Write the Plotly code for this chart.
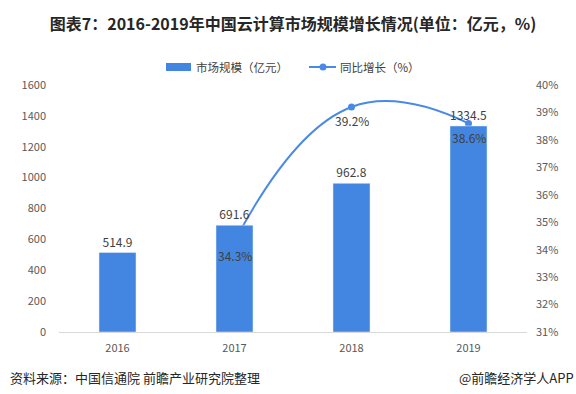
import plotly.graph_objects as go

years = ["2016", "2017", "2018", "2019"]
market_size = [514.9, 691.6, 962.8, 1334.5]
growth_years = ["2017", "2018", "2019"]
growth_rate = [34.3, 39.2, 38.6]

left_ticks = [0, 200, 400, 600, 800, 1000, 1200, 1400, 1600]
right_ticks = [31, 32, 33, 34, 35, 36, 37, 38, 39, 40]

FONT = "Noto Sans CJK SC, Microsoft YaHei, sans-serif"
BAR = "#4286E1"
LINE = "#4A89E6"

W, H = 576, 394
L, R, T, B = 59, 49, 85, 62
PW, PH = W - L - R, H - T - B


def px(x):
    return (x - L) / PW


def py(y):
    return (H - B - y) / PH


fig = go.Figure()
# growth line (drawn first, behind the bars) on the right-hand percent axis
fig.add_trace(go.Scatter(
    x=growth_years, y=growth_rate, name="同比增长（%）", yaxis="y",
    mode="lines+markers",
    line=dict(color=LINE, width=2, shape="spline", smoothing=1.3),
    marker=dict(size=7, color=LINE),
))
# bars on the left-hand axis
fig.add_trace(go.Bar(
    x=years, y=market_size, name="市场规模（亿元）", yaxis="y2",
    marker_color=BAR,
    text=[f"{v:.1f}" for v in market_size], textposition="outside",
    textfont=dict(size=12, color="#404040"), cliponaxis=False,
))

shapes = [
    dict(type="rect", xref="paper", yref="paper", x0=px(166), x1=px(191), y0=py(71), y1=py(63),
         fillcolor=BAR, line=dict(width=0)),
    dict(type="line", xref="paper", yref="paper", x0=px(309), x1=px(336), y0=py(67), y1=py(67),
         line=dict(color=LINE, width=2)),
    dict(type="circle", xref="paper", yref="paper", x0=px(319.5), x1=px(326.5), y0=py(70.5), y1=py(63.5),
         fillcolor=LINE, line=dict(width=0)),
]

annotations = [
    dict(text="市场规模（亿元）", x=px(194), xref="paper", xanchor="left",
         y=py(67), yref="paper", yanchor="middle", showarrow=False,
         font=dict(size=11.5, color="#404040", family=FONT)),
    dict(text="同比增长（%）", x=px(338), xref="paper", xanchor="left",
         y=py(67), yref="paper", yanchor="middle", showarrow=False,
         font=dict(size=11.5, color="#404040", family=FONT)),
    dict(text="资料来源：中国信通院 前瞻产业研究院整理", x=px(8), xref="paper", xanchor="left",
         y=py(377), yref="paper", yanchor="middle", showarrow=False,
         font=dict(size=13, color="#262626", family=FONT)),
    dict(text="@前瞻经济学人APP", x=px(576), xref="paper", xanchor="right",
         y=py(377), yref="paper", yanchor="middle", showarrow=False,
         font=dict(size=13, color="#262626", family=FONT)),
]
# growth labels, drawn on top of bars, just below each point
for yr, v in zip(growth_years, growth_rate):
    annotations.append(dict(
        text=f"{v:.1f}%", x=years.index(yr), xref="x", y=v, yref="y", yanchor="middle",
        yshift=-14, showarrow=False, font=dict(size=12, color="#404040", family=FONT)))

tickfont = dict(size=11, color="#595959")
fig.update_layout(
    width=W, height=H,
    margin=dict(l=L, r=R, t=T, b=B, autoexpand=False),
    paper_bgcolor="white", plot_bgcolor="white",
    font=dict(family=FONT, size=11, color="#595959"),
    title=dict(text="<b>图表7：2016-2019年中国云计算市场规模增长情况(单位：亿元，%)</b>",
               x=0.5, xref="paper", xanchor="center", y=1 - 24 / H, yanchor="middle",
               font=dict(size=16, color="#262626", family=FONT)),
    bargap=0.684,
    showlegend=False,
    xaxis=dict(type="category", categoryorder="array", categoryarray=years,
               range=[-0.5, len(years) - 0.5],
               showline=True, linecolor="#D9D9D9", linewidth=1,
               ticks="", tickfont=tickfont, showgrid=False, ticklabelstandoff=6),
    yaxis=dict(range=[31, 40], tickvals=right_ticks, ticktext=[f"{t}%" for t in right_ticks],
               side="right", showgrid=False, zeroline=False,
               showline=False, ticks="", tickfont=tickfont, ticklabelstandoff=8),
    yaxis2=dict(range=[0, 1600], tickvals=left_ticks, overlaying="y", side="left",
                showgrid=False, zeroline=False,
                showline=False, ticks="", tickfont=tickfont, ticklabelstandoff=12),
    shapes=shapes,
    annotations=annotations,
)

fig.write_html("out.html", config={"displayModeBar": False},
               post_script="document.body.style.margin='0';document.body.style.overflow='hidden';")
